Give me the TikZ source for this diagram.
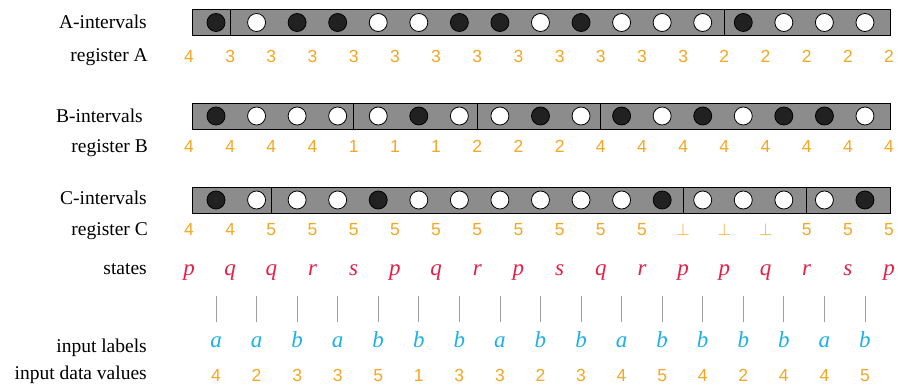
\documentclass[tikz,border=0pt]{standalone}
\usepackage{fontspec}
\setmainfont{Liberation Serif}
\setsansfont{Liberation Sans}
\usetikzlibrary{positioning,calc}

\definecolor{regorange}{RGB}{245,166,35}
\definecolor{statered}{RGB}{228,32,72}
\definecolor{labelcyan}{RGB}{30,176,232}
\definecolor{bargray}{RGB}{140,140,140}

\begin{document}
\begin{tikzpicture}[x=1pt, y=-1pt, font=\fontsize{19.5}{22}\selectfont,
  intbar/.style={draw, line width=0.8pt, fill=bargray, minimum width=698pt, minimum height=26pt, inner sep=0pt},
  dot/.style={circle, draw, line width=0.8pt, minimum size=18pt, inner sep=0pt},
  dotB/.style={dot, fill=black!87},
  dotW/.style={dot, fill=white},
  divider/.style={line width=0.8pt},
  rowlbl/.style={anchor=base east, inner sep=0pt},
  reg/.style={anchor=base, inner sep=0pt, text=regorange, font=\sffamily\fontsize{17.5}{20}\selectfont},
  st/.style={anchor=base, inner sep=0pt, text=statered, font=\itshape\fontsize{23}{25}\selectfont},
  inlab/.style={anchor=base, inner sep=0pt, text=labelcyan, font=\itshape\fontsize{23}{25}\selectfont},
  vtick/.style={draw=gray!75, line width=0.8pt}]
\useasboundingbox (0,0) rectangle (898,387);

\node[rowlbl] (lblA) at (147,29) {A-intervals};
\node[rowlbl] (lblregA) at (148,62) {register A};
\node[rowlbl] (lblB) at (143,123) {B-intervals};
\node[rowlbl] (lblregB) at (148,153) {register B};
\node[rowlbl] (lblC) at (147,205) {C-intervals};
\node[rowlbl] (lblregC) at (148,236) {register C};
\node[rowlbl] (lblst) at (147,275) {states};
\node[rowlbl] (lblin) at (147,353) {input labels};
\node[rowlbl] (lbldata) at (147,380) {input data values};

\node[intbar] (barA) at (541,22.5) {};
\node[intbar] (barB) at (541,116) {};
\node[intbar] (barC) at (541,200) {};

\foreach \v [count=\k from 0] in {4,3,3,3,3,3,3,3,3,3,3,3,3,2,2,2,2,2}
  \node[reg] (regA\k) at ({189+41.18*\k},63) {\v};
\foreach \v [count=\k from 0] in {4,4,4,4,1,1,1,2,2,2,4,4,4,4,4,4,4,4}
  \node[reg] (regB\k) at ({189+41.18*\k},153) {\v};
\foreach \v [count=\k from 0] in {4,4,5,5,5,5,5,5,5,5,5,5,$\bot$,$\bot$,$\bot$,5,5,5}
  \node[reg] (regC\k) at ({189+41.18*\k},236) {\v};

\foreach \k in {1,13}
  \draw[divider] (barA.north -| regA\k) -- (barA.south -| regA\k);
\foreach \k in {4,7,10}
  \draw[divider] (barB.north -| regB\k) -- (barB.south -| regB\k);
\foreach \k in {2,12,15}
  \draw[divider] (barC.north -| regC\k) -- (barC.south -| regC\k);

\foreach \c [count=\i] in {B,W,B,B,W,W,B,B,W,B,W,W,W,B,W,W,W}
  \node[dot\c] (a\i) at ({216+40.56*(\i-1)},22.5) {};
\foreach \c [count=\i] in {B,W,W,W,W,B,W,W,B,W,B,W,B,W,B,B,W}
  \node[dot\c] (b\i) at ({216+40.56*(\i-1)},116) {};
\foreach \c [count=\i] in {B,W,W,W,B,W,W,W,W,W,W,B,W,W,W,W,B}
  \node[dot\c] (c\i) at ({216+40.56*(\i-1)},200) {};

\foreach \s [count=\k from 0] in {p,q,q,r,s,p,q,r,p,s,q,r,p,p,q,r,s,p}
  \node[st] (st\k) at ({189+41.18*\k},276) {\s};

\foreach \l [count=\i] in {a,a,b,a,b,b,b,a,b,b,a,b,b,b,b,a,b}
  \node[inlab] (in\i) at ({216+40.56*(\i-1)},348) {\l};
\foreach \i in {1,...,17}
  \draw[vtick] (in\i |- 0,296) -- (in\i |- 0,322);

\foreach \v [count=\i] in {4,2,3,3,5,1,3,3,2,3,4,5,4,2,4,4,5}
  \node[reg] (dv\i) at ({216+40.56*(\i-1)},382) {\v};
\end{tikzpicture}
\end{document}
